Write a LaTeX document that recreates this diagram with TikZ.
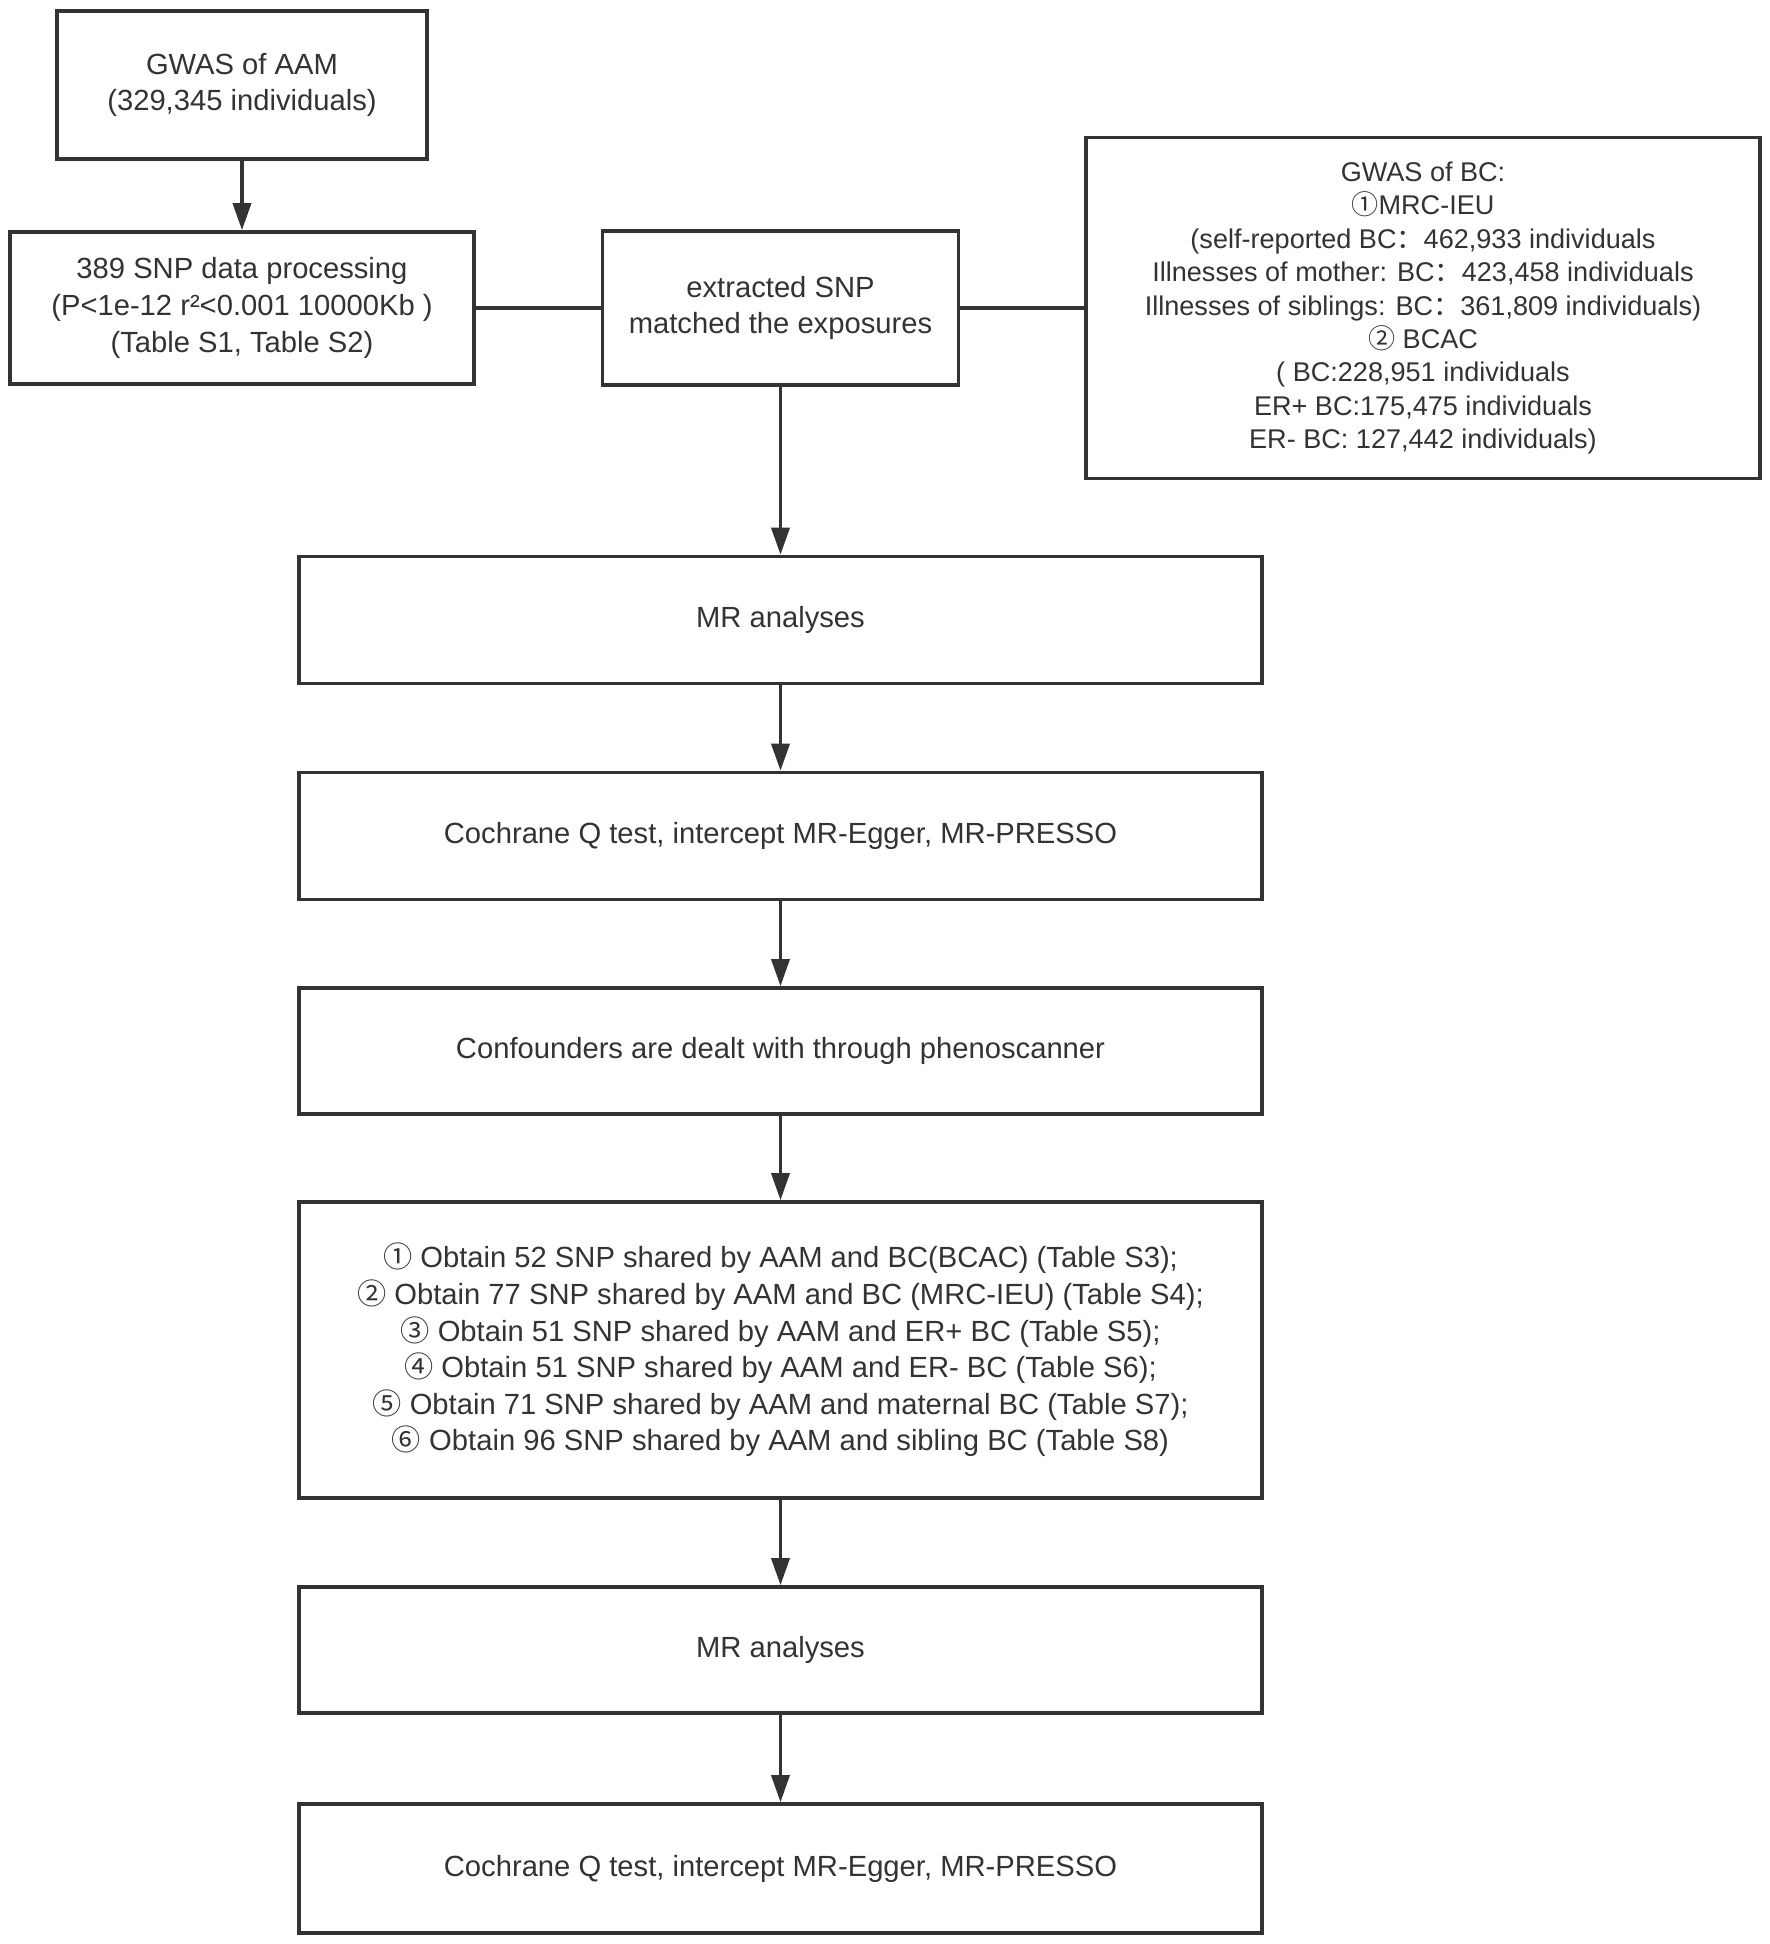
\documentclass[tikz,border=0pt]{standalone}
\usepackage{fontspec}
\setmainfont{Liberation Sans}
\newfontfamily\cjk{Noto Sans CJK SC}
\usetikzlibrary{arrows.meta}
\definecolor{ink}{HTML}{333333}
\newcommand{\cn}[1]{{\cjk #1}}
\begin{document}
\begin{tikzpicture}[x=0.01cm,y=-0.01cm,
  box/.style={draw=ink, line width=1pt, fill=white, text=ink, align=center, inner sep=0pt,
              font=\fontsize{8.3}{10.4}\selectfont},
  bcbox/.style={box, font=\fontsize{7.7}{9.5}\selectfont},
  arr/.style={draw=ink, line width=1pt, -{Triangle[length=0.27cm,width=0.18cm]}},
  lnk/.style={draw=ink, line width=1pt}]
\useasboundingbox (0,0) rectangle (1770,1944);
\node[box, minimum width=3.70cm, minimum height=1.48cm] (aam) at (242,85)
  {GWAS of AAM\\(329,345 individuals)};
\node[box, minimum width=4.64cm, minimum height=1.52cm] (snp) at (242,308)
  {389 SNP data processing\\(P<1e-12 r²<0.001 10000Kb )\\(Table S1, Table S2)};
\node[box, minimum width=3.56cm, minimum height=1.54cm] (ext) at (780.5,308)
  {extracted SNP\\matched the exposures};
\node[bcbox, minimum width=6.74cm, minimum height=3.41cm] (bc) at (1423,308)
  {GWAS of BC:\\\cn{①}MRC-IEU\\(self-reported BC\cn{：}462,933 individuals\\
   Illnesses of mother: BC\cn{：}423,458 individuals\\
   Illnesses of siblings: BC\cn{：}361,809 individuals)\\
   \cn{②} BCAC\\( BC:228,951 individuals\\ER+ BC:175,475 individuals\\ER- BC: 127,442 individuals)};
\node[box, minimum width=9.62cm, minimum height=1.27cm] (mr1) at (780.5,620) {MR analyses};
\node[box, minimum width=9.62cm, minimum height=1.27cm] (coch1) at (780.5,836)
  {Cochrane Q test, intercept MR-Egger, MR-PRESSO};
\node[box, minimum width=9.62cm, minimum height=1.26cm] (conf) at (780.5,1051)
  {Confounders are dealt with through phenoscanner};
\node[box, minimum width=9.62cm, minimum height=2.96cm] (obt) at (780.5,1350)
  {\cn{①} Obtain 52 SNP shared by AAM and BC(BCAC) (Table S3);\\
   \cn{②} Obtain 77 SNP shared by AAM and BC (MRC-IEU) (Table S4);\\
   \cn{③} Obtain 51 SNP shared by AAM and ER+ BC (Table S5);\\
   \cn{④} Obtain 51 SNP shared by AAM and ER- BC (Table S6);\\
   \cn{⑤} Obtain 71 SNP shared by AAM and maternal BC (Table S7);\\
   \cn{⑥} Obtain 96 SNP shared by AAM and sibling BC (Table S8)};
\node[box, minimum width=9.62cm, minimum height=1.26cm] (mr2) at (780.5,1650) {MR analyses};
\node[box, minimum width=9.62cm, minimum height=1.29cm] (coch2) at (780.5,1868.5)
  {Cochrane Q test, intercept MR-Egger, MR-PRESSO};
\draw[arr] (aam) -- (snp);
\draw[lnk] (snp) -- (ext);
\draw[lnk] (ext) -- (bc);
\draw[arr] (ext) -- (mr1);
\draw[arr] (mr1) -- (coch1);
\draw[arr] (coch1) -- (conf);
\draw[arr] (conf) -- (obt);
\draw[arr] (obt) -- (mr2);
\draw[arr] (mr2) -- (coch2);
\end{tikzpicture}
\end{document}
